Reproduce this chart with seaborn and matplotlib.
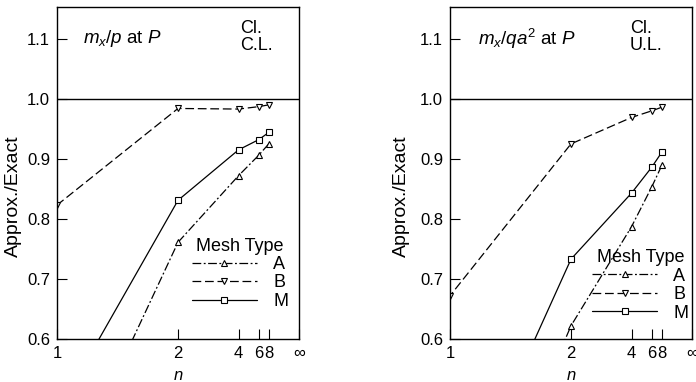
import numpy as np
import pandas as pd
import matplotlib
matplotlib.use("Agg")
import matplotlib.pyplot as plt
import seaborn as sns

# ---- data -------------------------------------------------------------
n_values = [1, 2, 4, 6, 8]
mesh_types = ["A", "B", "M"]

# left panel: m_x/p at P (Cl. C.L.)
left_A = [0.33, 0.761, 0.872, 0.906, 0.925]
left_B = [0.823, 0.984, 0.983, 0.987, 0.990]
left_M = [0.477, 0.831, 0.915, 0.932, 0.944]

# right panel: m_x/qa^2 at P (Cl. U.L.)
right_A = [0.15, 0.622, 0.787, 0.853, 0.889]
right_B = [0.672, 0.925, 0.969, 0.980, 0.986]
right_M = [0.287, 0.733, 0.843, 0.886, 0.911]

x_tick_n = [1, 2, 4, 6, 8]
x_tick_labels = ["1", "2", "4", "6", "8", "∞"]
y_ticks = [0.6, 0.7, 0.8, 0.9, 1.0, 1.1]

titles = [r"$m_x/p$ at $P$", r"$m_x/qa^2$ at $P$"]
cases = ["Cl.\nC.L.", "Cl.\nU.L."]


def make_df(a, b, m):
    rows = []
    for name, vals in zip(mesh_types, [a, b, m]):
        for n, v in zip(n_values, vals):
            rows.append({"inv_n": 1.0 / n, "ratio": v, "mesh": name})
    return pd.DataFrame(rows)


dfs = [make_df(left_A, left_B, left_M), make_df(right_A, right_B, right_M)]

# ---- style ------------------------------------------------------------
sns.set_style("ticks")
plt.rcParams["font.family"] = ["Liberation Sans", "DejaVu Sans"]
plt.rcParams["mathtext.fontset"] = "custom"
plt.rcParams["mathtext.it"] = "Liberation Sans:italic"
plt.rcParams["mathtext.rm"] = "Liberation Sans"
for key in ["text.color", "axes.labelcolor", "xtick.color", "ytick.color",
            "axes.edgecolor"]:
    plt.rcParams[key] = "black"

fig = plt.figure(figsize=(6.96, 3.82), dpi=100)
axes_pos = [[57 / 696, 43 / 382, 242 / 696, 332 / 382],
            [450 / 696, 43 / 382, 242 / 696, 332 / 382]]
legend_anchor = [(1.0, 0.055), (1.03, 0.02)]
title_xy = [(0.107, 0.905), (0.116, 0.905)]
case_xy = [(0.756, 0.962), (0.744, 0.962)]
ylabel_xy = [(-0.145, 0.43), (-0.165, 0.43)]

markers = {"A": "^", "B": "v", "M": "s"}
dashes = {"A": (7, 2, 1.5, 2), "B": (7, 3), "M": ""}

FS = 12

for i in range(2):
    ax = fig.add_axes(axes_pos[i])
    sns.lineplot(data=dfs[i], x="inv_n", y="ratio", style="mesh",
                 style_order=mesh_types, markers=markers, dashes=dashes,
                 color="black", lw=0.9, markersize=4.5,
                 markerfacecolor="white", markeredgecolor="black",
                 markeredgewidth=0.8, ax=ax, legend=True)
    ax.set_xlim(1, 0)
    ax.set_ylim(0.6, 1.153)
    ax.axhline(1.0, color="black", lw=1.0)
    ax.set_xticks([1.0 / n for n in x_tick_n] + [0.0])
    ax.set_xticklabels(x_tick_labels, fontsize=FS)
    ax.set_yticks(y_ticks)
    ax.set_yticklabels([f"{v:.1f}" for v in y_ticks], fontsize=FS)
    ax.tick_params(direction="in", length=7, width=0.8, pad=5)
    for s in ax.spines.values():
        s.set_linewidth(1.0)
        s.set_color("black")
    ax.set_xlabel("$n$", fontsize=FS, labelpad=5)
    ax.set_ylabel("Approx./Exact", fontsize=14)
    ax.yaxis.set_label_coords(*ylabel_xy[i])
    ax.text(*title_xy[i], titles[i], transform=ax.transAxes, fontsize=13.5,
            va="center", ha="left")
    ax.text(*case_xy[i], cases[i], transform=ax.transAxes, fontsize=13,
            va="top", ha="left", linespacing=1.0)
    handles, labels = ax.get_legend_handles_labels()
    leg = ax.legend(handles, labels, title="Mesh Type", loc="lower right",
                    bbox_to_anchor=legend_anchor[i], frameon=False,
                    markerfirst=True, handlelength=3.6, handletextpad=0.9,
                    labelspacing=0.08, fontsize=FS + 1, title_fontsize=FS + 1,
                    borderpad=0.1)

fig.savefig("out.png", dpi=100)
